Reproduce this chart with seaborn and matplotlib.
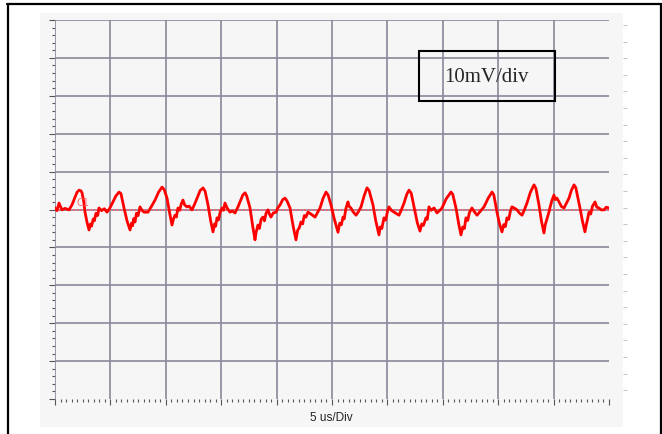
import numpy as np
import pandas as pd
import seaborn as sns
import matplotlib.pyplot as plt
from matplotlib.patches import Rectangle
from matplotlib.lines import Line2D

# ripple trace (5 us/div, 10 mV/div)
time_us = [0.00, 0.18, 0.36, 0.50, 0.63, 0.90, 1.26, 1.53, 1.80, 2.00, 2.17, 2.35, 2.44, 2.60,
           2.71, 2.90, 3.07, 3.20, 3.30, 3.45, 3.55, 3.70, 3.85, 3.97, 4.20, 4.45, 4.69, 4.96,
           5.20, 5.50, 5.78, 5.95, 6.23, 6.50, 6.77, 6.90, 7.00, 7.10, 7.22, 7.35, 7.50, 7.67,
           7.85, 8.03, 8.39, 8.70, 9.03, 9.35, 9.66, 9.85, 10.11, 10.35, 10.56, 10.70, 10.83, 10.95,
           11.10, 11.25, 11.40, 11.55, 11.70, 11.91, 12.10, 12.36, 12.60, 12.82, 13.10, 13.36, 13.55, 13.81,
           14.05, 14.26, 14.40, 14.50, 14.62, 14.75, 14.90, 15.07, 15.20, 15.34, 15.55, 15.79, 16.00, 16.25,
           16.50, 16.70, 16.95, 17.15, 17.30, 17.60, 17.85, 18.05, 18.15, 18.32, 18.45, 18.60, 18.77, 18.90,
           19.05, 19.22, 19.35, 19.49, 19.70, 19.95, 20.10, 20.31, 20.55, 20.76, 20.95, 21.21, 21.50, 21.75,
           21.90, 22.05, 22.20, 22.35, 22.50, 22.65, 22.83, 23.10, 23.47, 23.70, 23.92, 24.20, 24.46, 24.65,
           24.91, 25.18, 25.54, 25.70, 25.85, 25.99, 26.10, 26.25, 26.44, 26.55, 26.71, 26.90, 27.17, 27.40,
           27.62, 27.90, 28.16, 28.35, 28.70, 28.95, 29.24, 29.35, 29.50, 29.69, 29.85, 30.00, 30.14, 30.35,
           30.60, 31.05, 31.30, 31.50, 31.75, 31.95, 32.15, 32.40, 32.70, 32.94, 33.10, 33.25, 33.48, 33.60,
           33.75, 33.95, 34.21, 34.48, 34.70, 34.93, 35.30, 35.74, 35.90, 36.19, 36.45, 36.64, 36.80, 36.95,
           37.09, 37.25, 37.40, 37.63, 37.85, 38.09, 38.40, 38.72, 39.10, 39.44, 39.60, 39.89, 40.10, 40.34,
           40.50, 40.65, 40.79, 40.95, 41.10, 41.24, 41.50, 41.70, 41.90, 42.15, 42.35, 42.60, 42.90, 43.23,
           43.40, 43.68, 43.90, 44.13, 44.25, 44.40, 44.58, 44.70, 44.85, 45.03, 45.15, 45.30, 45.49, 45.70,
           45.94, 46.15, 46.39, 46.60, 46.84, 47.00, 47.38, 47.60, 47.83, 47.95, 48.05, 48.19, 48.35, 48.50,
           48.74, 48.90, 49.10, 49.30, 49.55, 49.75, 50.00]
ripple_mv = [0.4, -0.3, 1.7, 0.8, -0.1, 0.3, -0.1, 1.2, 3.2, 4.6, 5.1, 4.9, 4.4, 2.0,
             -0.7, -3.5, -5.4, -3.8, -4.4, -2.5, -3.0, -1.0, -1.6, 0.4, -0.3, 0.2, -0.7, 0.4,
             1.8, 3.6, 4.6, 4.2, 0.4, -3.0, -5.4, -3.6, -4.3, -2.4, -3.3, -1.0, -1.6, 0.7,
             -0.2, -0.7, -0.7, 0.8, 2.5, 4.6, 5.9, 5.3, 3.0, -1.0, -4.1, -2.4, -1.5, -2.0,
             0.4, -0.2, 1.5, 2.5, 1.2, 0.7, 0.9, -0.1, 1.4, 3.0, 5.0, 5.7, 4.8, 1.2,
             -3.0, -5.9, -3.8, -4.4, -2.2, -2.8, -0.8, 0.4, -0.2, 1.7, 0.3, -0.7, -0.4, -0.9,
             0.6, 2.0, 3.8, 4.4, 3.6, 0.4, -4.5, -8.0, -6.0, -4.1, -5.0, -2.6, -2.0, -3.0,
             -1.0, -0.1, -1.2, -2.0, -0.9, -0.7, 0.4, 1.2, 2.6, 3.0, 2.2, 0.4, -4.5, -8.0,
             -5.5, -4.8, -3.3, -3.8, -1.6, -2.0, -0.7, -1.2, -2.0, -0.8, 0.4, 3.0, 4.6, 3.8,
             1.2, -2.2, -6.0, -3.6, -4.0, -2.0, -2.5, 0.2, 2.0, 0.8, 0.4, -0.6, -1.5, -0.5,
             0.7, 3.6, 5.7, 5.0, 1.2, -3.0, -6.7, -4.6, -5.0, -2.2, -2.8, -0.6, 0.7, -0.2,
             -0.7, -1.5, 0.2, 1.7, 4.0, 5.1, 4.3, 0.7, -3.5, -5.7, -3.8, -4.2, -2.2, -2.6,
             0.7, -0.2, 0.4, -0.9, -0.3, 0.4, 2.8, 4.6, 4.0, 0.4, -4.0, -6.7, -4.6, -5.0,
             -2.2, -2.9, -0.8, 0.4, -0.6, -1.5, -0.4, 0.7, 3.0, 4.6, 3.9, -0.7, -3.6, -5.9,
             -4.0, -4.5, -2.2, -2.6, -0.4, 0.7, 0.3, -0.1, -0.9, -1.5, -0.2, 1.7, 4.5, 6.5,
             5.6, 1.2, -3.0, -6.2, -4.0, -2.5, -0.7, 0.8, 2.4, 3.8, 2.6, 3.0, 2.0, 0.8,
             0.4, 1.6, 3.0, 5.0, 6.5, 5.8, 0.4, -3.0, -5.9, -4.0, -2.8, -0.7, -1.2, 0.8,
             2.0, 0.6, 0.4, -0.1, -0.1, 0.6, 0.4]

x_label = "5 us/Div"
scale_label = "10mV/div"
channel_label = "C1"

df = pd.DataFrame({"time_us": time_us, "ripple_mv": ripple_mv})

sns.set_style("white")
W, H = 662, 435
fig = plt.figure(figsize=(W / 100, H / 100), dpi=100)


def fx(px):
    return px / W


def fy(py):
    return 1 - py / H


# grey scope panel and page frame
fig.add_artist(Rectangle((fx(40), fy(428)), fx(623) - fx(40), fy(14) - fy(428),
                         transform=fig.transFigure, facecolor="#f6f6f6",
                         edgecolor="none", zorder=0))
frame = dict(color="black", lw=1.6, transform=fig.transFigure)
fig.add_artist(Line2D([fx(7), fx(661)], [fy(5), fy(5)], **frame))
fig.add_artist(Line2D([fx(8), fx(8)], [fy(5), 0], **frame))
fig.add_artist(Line2D([fx(661), fx(661)], [fy(5), 0], **frame))

ax = fig.add_axes([fx(55), fy(400), fx(609) - fx(55), fy(21) - fy(400)])
ax.set_facecolor("none")
ax.set_xlim(0, 50)
ax.set_ylim(-50, 50)
for s in ax.spines.values():
    s.set_visible(False)

grid_kw = dict(color="#88889a", lw=1.2, zorder=1)
for v in range(0, 50, 5):
    ax.axvline(v, **grid_kw)
for m in range(-40, 60, 10):
    ax.axhline(m, **grid_kw)

ax.set_xticks(np.arange(0, 51, 5))
ax.set_xticks(np.arange(0, 50.1, 0.5), minor=True)
ax.set_yticks(np.arange(-50, 51, 10))
ax.set_yticks(np.arange(-50, 51, 2), minor=True)
ax.tick_params(which="both", direction="out", colors="#555555", width=0.8,
               labelbottom=False, labelleft=False, bottom=True, left=True)
ax.tick_params(which="major", length=4)
ax.tick_params(which="minor", length=2.5)

# faint marks right of the screen
ax2 = ax.twinx()
ax2.set_ylim(-50, 50)
for s in ax2.spines.values():
    s.set_visible(False)
ax2.spines["right"].set_position(("outward", 10))
ax2.set_yticks(np.arange(48.7, -50, -4.38))
ax2.tick_params(axis="y", direction="out", length=3, width=0.7,
                colors="#c4c4c4", labelright=False)

ax.axhline(0, color="#ff5a6e", ls=(0, (1, 1)), lw=1.3, zorder=2)
sns.lineplot(data=df, x="time_us", y="ripple_mv", color="#ff0000", lw=2.0,
             ax=ax, zorder=3)
ax.set_xlabel("")
ax.set_ylabel("")
ax.text(1.9, 0.6, channel_label, color="#ff6a6a", fontsize=7, va="bottom")

fig.text(fx(331), fy(418), x_label, ha="center", va="center", fontsize=8.5,
         family="Liberation Sans", color="#222222")

fig.add_artist(Rectangle((fx(419), fy(102)), fx(555) - fx(419), fy(52) - fy(102),
                         transform=fig.transFigure, fill=False,
                         edgecolor="black", lw=1.5, zorder=5))
fig.text(fx(486), fy(77), scale_label, ha="center", va="center", fontsize=15,
         family="Liberation Serif")

fig.savefig("out.png", dpi=100)
